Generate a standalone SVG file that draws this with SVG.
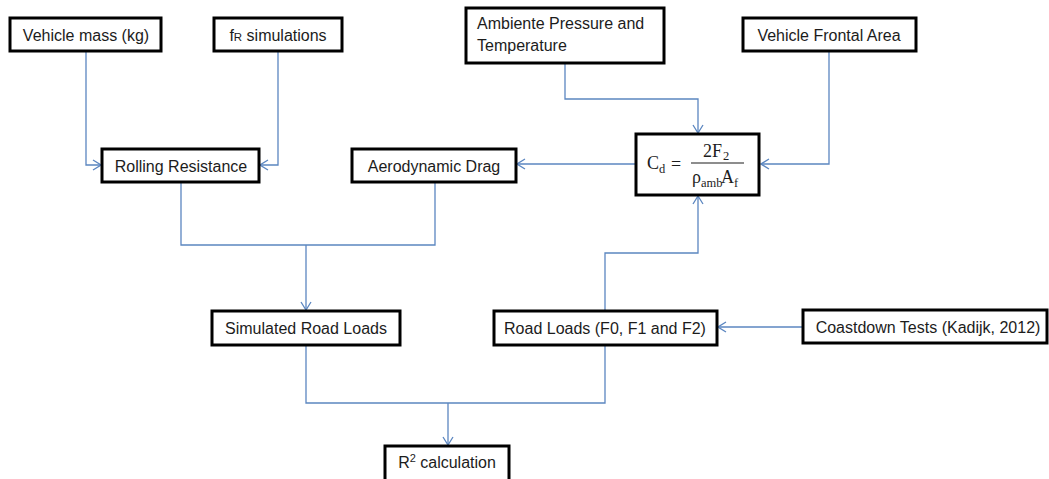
<svg xmlns="http://www.w3.org/2000/svg" width="1049" height="479" viewBox="0 0 1049 479">
<style>
.box{fill:#fff;stroke:#000;stroke-width:3}
.t{font-family:"Liberation Sans",Arial,sans-serif;font-size:16px;fill:#1c1c1c;text-anchor:middle}
.l{text-anchor:start}
.m{font-family:"Liberation Serif","DejaVu Serif",serif;fill:#1c1c1c;font-size:18px}
.s{font-size:12.5px}
.c{fill:none;stroke:#5b86c0;stroke-width:1.3}
</style>
<defs>
<marker id="a" markerWidth="10" markerHeight="12" refX="9" refY="6" orient="auto" markerUnits="userSpaceOnUse">
<path d="M1,1 L9,6 L1,11" fill="none" stroke="#5b86c0" stroke-width="1.3"/>
</marker>
</defs>
<rect width="1049" height="479" fill="#fff"/>
<g id="connectors">
<path class="c" d="M86,52 V165 H101" marker-end="url(#a)"/>
<path class="c" d="M278,52 V165 H260" marker-end="url(#a)"/>
<path class="c" d="M565,63 V99 H698 V133" marker-end="url(#a)"/>
<path class="c" d="M829,52 V164 H761" marker-end="url(#a)"/>
<path class="c" d="M636,164 H517" marker-end="url(#a)"/>
<path class="c" d="M181,183 V245 H435 V183"/>
<path class="c" d="M306,245 V310" marker-end="url(#a)"/>
<path class="c" d="M605,311 V253 H698 V196" marker-end="url(#a)"/>
<path class="c" d="M803,327 H718" marker-end="url(#a)"/>
<path class="c" d="M306,346 V403 H605 V346"/>
<path class="c" d="M448,403 V445" marker-end="url(#a)"/>
</g>
<g id="vehicle-mass">
<rect class="box" x="10" y="18" width="151" height="33"/>
<text class="t" x="86" y="41">Vehicle mass (kg)</text>
</g>
<g id="fr-simulations">
<rect class="box" x="214" y="18" width="128" height="33"/>
<text class="t" x="278" y="41">f<tspan font-size="11.5px">R</tspan> simulations</text>
</g>
<g id="ambient">
<rect class="box" x="466" y="8" width="198" height="55"/>
<text class="t l" x="477" y="29">Ambiente Pressure and</text>
<text class="t l" x="477" y="51">Temperature</text>
</g>
<g id="frontal-area">
<rect class="box" x="743" y="18" width="173" height="33"/>
<text class="t" x="829" y="41">Vehicle Frontal Area</text>
</g>
<g id="rolling-resistance">
<rect class="box" x="102" y="149" width="157" height="33"/>
<text class="t" x="181" y="172">Rolling Resistance</text>
</g>
<g id="aero-drag">
<rect class="box" x="352" y="149" width="164" height="33"/>
<text class="t" x="434" y="172">Aerodynamic Drag</text>
</g>
<g id="cd-formula">
<rect class="box" x="636" y="134" width="123" height="61"/>
<text class="m" x="647" y="169">C</text>
<text class="m s" x="659" y="173">d</text>
<text class="m" x="671" y="170" font-size="21px">=</text>
<line x1="691" y1="163" x2="744" y2="163" stroke="#1c1c1c" stroke-width="1.2"/>
<text class="m" x="703" y="157">2F</text>
<text class="m s" x="723" y="160">2</text>
<text class="m" x="692" y="183">ρ</text>
<text class="m s" x="701" y="187">amb</text>
<text class="m" x="721" y="183">A</text>
<text class="m s" x="734" y="187">f</text>
</g>
<g id="simulated-road-loads">
<rect class="box" x="212" y="311" width="188" height="34"/>
<text class="t" x="306" y="334">Simulated Road Loads</text>
</g>
<g id="road-loads">
<rect class="box" x="494" y="311" width="223" height="34"/>
<text class="t" x="605" y="334">Road Loads (F0, F1 and F2)</text>
</g>
<g id="coastdown">
<rect class="box" x="803" y="310" width="244" height="33"/>
<text class="t" x="928" y="333">Coastdown Tests (Kadijk, 2012)</text>
</g>
<g id="r2">
<rect class="box" x="385" y="446" width="124" height="40"/>
<text class="t" x="447" y="468">R<tspan font-size="11px" dy="-6">2</tspan><tspan dy="6"> calculation</tspan></text>
</g>
</svg>
